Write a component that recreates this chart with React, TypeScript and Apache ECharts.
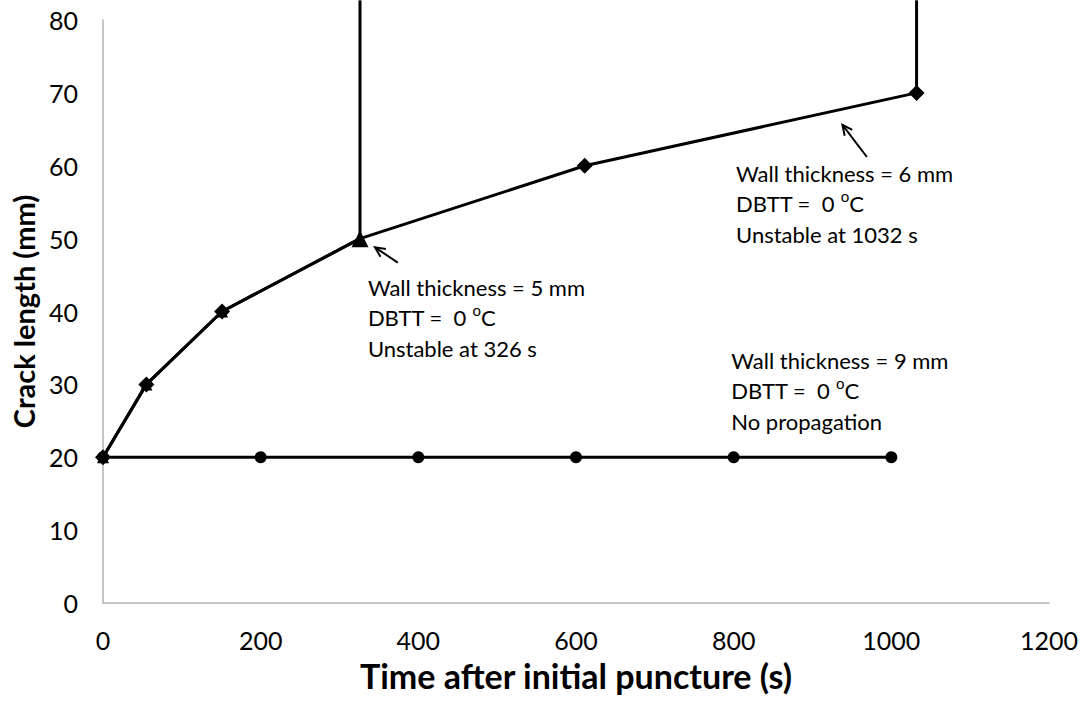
import React, { useEffect, useRef } from "react";
import * as echarts from "echarts";

const xTicks = { min: 0, max: 1200, interval: 200 };
const yTicks = { min: 0, max: 80, interval: 10 };

// Wall thickness = 6 mm (diamonds), vertical rise at 1032 s
const wall6: [number, number][] = [
  [0, 20], [55, 30], [151, 40], [326, 50], [611, 60], [1032, 70],
];
const wall6Rise: [number, number][] = [[1032, 70], [1032, 82.7]];

// Wall thickness = 5 mm (triangles), vertical rise at 326 s
const wall5: [number, number][] = [[0, 20], [55, 30], [151, 40], [326, 50]];
const wall5Rise: [number, number][] = [[326, 50], [326, 82.7]];

// Wall thickness = 9 mm (circles), no propagation
const wall9: [number, number][] = [
  [0, 20], [200, 20], [400, 20], [600, 20], [800, 20], [1000, 20],
];

const notes = [
  { at: [336, 43.35], lines: ["Wall thickness = 5 mm", "DBTT =  0 {s|o}C", "Unstable at 326 s"] },
  { at: [803, 59.0], lines: ["Wall thickness = 6 mm", "DBTT =  0 {s|o}C", "Unstable at 1032 s"] },
  { at: [797, 33.3], lines: ["Wall thickness = 9 mm", "DBTT =  0 {s|o}C", "No propagation"] },
];

// arrows: tail -> head in data coords
const arrows = [
  { from: [374, 46.7], to: [345, 48.8] },
  { from: [969, 61.2], to: [938, 65.6] },
];

const FONT = "Lato, 'Open Sans', sans-serif";
const LINE_H = 30.5;

export default function App() {
  const ref = useRef<HTMLDivElement>(null);
  useEffect(() => {
    if (!ref.current) return;
    const chart = echarts.init(ref.current, undefined, { renderer: "svg" });
    const lineStyle = { color: "#000", width: 3 };
    const lastIdx5 = wall5.length - 1;
    chart.setOption({
      animation: false,
      backgroundColor: "#fff",
      grid: { left: 103, top: 20, width: 947, height: 583, containLabel: false },
      xAxis: {
        type: "value",
        ...xTicks,
        name: "Time after initial puncture (s)",
        nameLocation: "middle",
        nameGap: 55,
        nameTextStyle: { fontFamily: FONT, fontWeight: "bold", fontSize: 34, color: "#000" },
        axisLine: { show: true, lineStyle: { color: "#b3b3b3", width: 1.5 } },
        axisTick: { show: false },
        splitLine: { show: false },
        axisLabel: { fontFamily: FONT, fontSize: 25, color: "#000", margin: 24, formatter: (v: number) => String(v) },
      },
      yAxis: {
        type: "value",
        ...yTicks,
        name: "Crack length (mm)",
        nameLocation: "middle",
        nameGap: 59,
        nameTextStyle: { fontFamily: FONT, fontWeight: "bold", fontSize: 29, color: "#000" },
        axisLine: { show: true, lineStyle: { color: "#b3b3b3", width: 1.5 } },
        axisTick: { show: false },
        splitLine: { show: false },
        axisLabel: { fontFamily: FONT, fontSize: 25, color: "#000", margin: 25, formatter: (v: number) => String(v) },
      },
      series: [
        {
          type: "line", data: wall9, symbol: "circle", symbolSize: 12,
          lineStyle, itemStyle: { color: "#000" }, z: 2,
        },
        {
          type: "line", data: wall5Rise, symbol: "none", clip: false,
          lineStyle, itemStyle: { color: "#000" }, z: 2,
        },
        {
          type: "line", data: wall6Rise, symbol: "none", clip: false,
          lineStyle, itemStyle: { color: "#000" }, z: 2,
        },
        {
          type: "line", data: wall5, symbol: "triangle",
          symbolSize: (_v: any, p: any) => (p.dataIndex === lastIdx5 ? 17 : 12),
          lineStyle, itemStyle: { color: "#000" }, z: 3,
        },
        {
          type: "line", data: wall6,
          symbol: (_v: any, p: any) => (p.dataIndex === lastIdx5 ? "none" : "diamond"),
          symbolSize: 16,
          lineStyle, itemStyle: { color: "#000" }, z: 4,
        },
      ],
    });

    const px = (p: number[]) => chart.convertToPixel({ gridIndex: 0 }, p) as number[];
    const graphics: any[] = [];
    notes.forEach((n) => {
      const [x, y] = px(n.at);
      graphics.push({
        type: "text",
        x, y: y - LINE_H / 2,
        style: {
          text: n.lines.join("\n"),
          fontFamily: FONT, fontSize: 22, fill: "#000",
          lineHeight: LINE_H,
          verticalAlign: "top",
          rich: { s: { fontSize: 15, verticalAlign: "top", padding: [0, 0, 11, 0], fontFamily: FONT, lineHeight: LINE_H } },
        },
      });
    });
    arrows.forEach((a) => {
      const [x1, y1] = px(a.from);
      const [x2, y2] = px(a.to);
      const ang = Math.atan2(y1 - y2, x1 - x2);
      const L = 11, spread = 0.45;
      graphics.push({
        type: "line",
        shape: { x1, y1, x2, y2 },
        style: { stroke: "#000", lineWidth: 2 },
      });
      graphics.push({
        type: "polyline",
        shape: {
          points: [
            [x2 + L * Math.cos(ang + spread), y2 + L * Math.sin(ang + spread)],
            [x2, y2],
            [x2 + L * Math.cos(ang - spread), y2 + L * Math.sin(ang - spread)],
          ],
        },
        style: { stroke: "#000", lineWidth: 2, fill: "none" },
      });
    });
    chart.setOption({ graphic: graphics });
    return () => chart.dispose();
  }, []);
  return (
    <div
      ref={ref}
      style={{ position: "fixed", left: 0, top: 0, width: 1081, height: 702, background: "#fff" }}
    />
  );
}
